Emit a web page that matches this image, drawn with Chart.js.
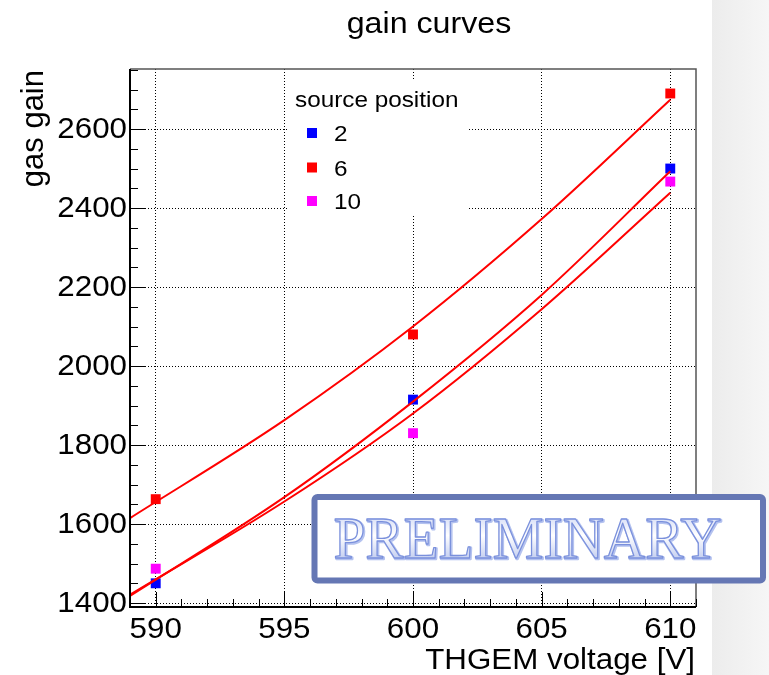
<!DOCTYPE html>
<html>
<head>
<meta charset="utf-8">
<title>gain curves</title>
<script src="https://cdn.jsdelivr.net/npm/chart.js@4/dist/chart.umd.min.js"></script>
<style>
  html, body { margin: 0; padding: 0; background: #ffffff; }
  #wrap { width: 769px; height: 675px; }
</style>
</head>
<body>
<div id="wrap"><canvas id="gain" width="769" height="675"></canvas></div>
<script>
// THGEM voltage settings [V] and measured gas gain per source position
const voltages = [590, 600, 610];
const gainPos2 = [1450, 1915, 2500];
const gainPos6 = [1663, 2080, 2690];
const gainPos10 = [1487, 1830, 2467];

// fitted gain curves, sampled along the voltage axis
const fitVoltages = [589, 595, 600, 605, 610];
const fitPos2 = [1418, 1668, 1910, 2180, 2493];
const fitPos6 = [1615, 1863, 2100, 2372, 2674];
const fitPos10 = [1421, 1657, 1880, 2144, 2439];

// axis ranges and tick labels
const xRange = [589, 611];
const yRange = [1390, 2752];
const xTicks = [590, 595, 600, 605, 610];
const yTicks = [1400, 1600, 1800, 2000, 2200, 2400, 2600];
const xMinorStep = 1;
const yMinorStep = 50;

const seriesNames = ['2', '6', '10'];
const seriesColors = ['#0000ff', '#ff0000', '#ff00ff'];
const fitColor = '#ff0000';

const SANS = '"Liberation Sans", Arial, sans-serif';
const SERIF = '"Liberation Serif", "Times New Roman", serif';

function pairs(xs, ys) { return xs.map((x, i) => ({ x: x, y: ys[i] })); }

function drawText(ctx, s, x, y, o) {
  ctx.save();
  ctx.font = o.size + 'px ' + (o.family || SANS);
  ctx.fillStyle = o.color || '#000000';
  ctx.textAlign = o.align || 'left';
  ctx.textBaseline = o.baseline || 'alphabetic';
  ctx.translate(x, y);
  if (o.rotate) ctx.rotate(o.rotate);
  ctx.scale(o.sx || 1, 1);
  ctx.fillText(s, 0, 0);
  ctx.restore();
}

const backdrop = {
  id: 'backdrop',
  beforeDraw(chart) {
    const ctx = chart.ctx;
    ctx.save();
    ctx.fillStyle = '#ffffff';
    ctx.fillRect(0, 0, chart.width, chart.height);
    const g = ctx.createLinearGradient(712, 0, chart.width, 0);
    g.addColorStop(0, '#ececec');
    g.addColorStop(1, '#f6f6f6');
    ctx.fillStyle = g;
    ctx.fillRect(712, 0, chart.width - 712, chart.height);
    ctx.restore();
  }
};

const frameAndText = {
  id: 'frameAndText',
  afterDatasetsDraw(chart) {
    const ctx = chart.ctx;
    const a = chart.chartArea;
    const xs = chart.scales.x, ys = chart.scales.y;

    // frame: top and right in grey, axes in black
    ctx.save();
    ctx.lineWidth = 1.5;
    ctx.strokeStyle = '#555555';
    ctx.beginPath();
    ctx.moveTo(a.left, a.top); ctx.lineTo(a.right, a.top); ctx.lineTo(a.right, a.bottom);
    ctx.stroke();
    ctx.lineWidth = 2;
    ctx.strokeStyle = '#000000';
    ctx.beginPath();
    ctx.moveTo(a.left, a.top); ctx.lineTo(a.left, a.bottom); ctx.lineTo(a.right, a.bottom);
    ctx.stroke();

    // tick marks pointing into the frame
    ctx.lineWidth = 1;
    ctx.beginPath();
    for (let v = Math.ceil(yRange[0] / yMinorStep) * yMinorStep; v <= yRange[1]; v += yMinorStep) {
      const py = Math.round(ys.getPixelForValue(v)) + 0.5;
      const len = (v % 200 === 0) ? 15 : 8;
      ctx.moveTo(a.left, py); ctx.lineTo(a.left + len, py);
    }
    for (let v = Math.ceil(xRange[0]); v <= xRange[1]; v += xMinorStep) {
      const px = Math.round(xs.getPixelForValue(v)) + 0.5;
      const len = (v % 5 === 0) ? 15 : 8;
      ctx.moveTo(px, a.bottom); ctx.lineTo(px, a.bottom - len);
    }
    ctx.stroke();
    ctx.restore();

    // tick labels
    yTicks.forEach(v => {
      drawText(ctx, String(v), a.left - 3, ys.getPixelForValue(v) + 1,
        { size: 29, sx: 1.08, align: 'right', baseline: 'middle' });
    });
    xTicks.forEach(v => {
      drawText(ctx, String(v), xs.getPixelForValue(v), 638,
        { size: 29, sx: 1.08, align: 'center' });
    });

    // titles
    drawText(ctx, 'gain curves', 429, 33, { size: 29, sx: 1.11, align: 'center' });
    drawText(ctx, 'THGEM voltage [V]', a.right - 1, 669, { size: 29, sx: 1.08, align: 'right' });
    drawText(ctx, 'gas gain', 43, a.top + 1, { size: 31, align: 'right', rotate: -Math.PI / 2 });

    // legend
    ctx.save();
    ctx.fillStyle = '#ffffff';
    ctx.fillRect(287, 80, 180, 135);
    ctx.restore();
    drawText(ctx, 'source position', 295, 107, { size: 22.5, sx: 1.08 });
    const rows = [133, 167.5, 201];
    seriesNames.forEach((n, i) => {
      ctx.save();
      ctx.fillStyle = seriesColors[i];
      ctx.fillRect(307, rows[i] - 5, 10, 10);
      ctx.restore();
      drawText(ctx, n, 334, rows[i] + 8, { size: 22.5, sx: 1.08 });
    });

    // PRELIMINARY stamp
    ctx.save();
    ctx.beginPath();
    if (ctx.roundRect) ctx.roundRect(314.5, 497, 448.5, 83.5, 3);
    else ctx.rect(314.5, 497, 448.5, 83.5);
    ctx.fillStyle = '#ffffff';
    ctx.fill();
    ctx.lineWidth = 6;
    ctx.strokeStyle = '#6577b4';
    ctx.stroke();

    ctx.font = '59px ' + SERIF;
    const w = ctx.measureText('PRELIMINARY').width;
    const sx = 388 / w;
    ctx.translate(333.5, 557.5);
    ctx.scale(sx, 1);
    ctx.textAlign = 'left';
    ctx.textBaseline = 'alphabetic';
    const g = ctx.createLinearGradient(0, -40, 0, 0);
    g.addColorStop(0, '#d9e0f7');
    g.addColorStop(0.45, '#ffffff');
    g.addColorStop(1, '#c7d1f1');
    ctx.lineJoin = 'round';
    ctx.strokeStyle = '#b4c2ef';
    ctx.lineWidth = 2.5;
    ctx.strokeText('PRELIMINARY', 1, 1);
    ctx.fillStyle = g;
    ctx.fillText('PRELIMINARY', 0, 0);
    ctx.strokeStyle = '#7a90dc';
    ctx.lineWidth = 1.3;
    ctx.strokeText('PRELIMINARY', 0, 0);
    ctx.restore();
  }
};

const pointSets = [gainPos2, gainPos6, gainPos10].map((ys, i) => ({
  label: seriesNames[i],
  data: pairs(voltages, ys),
  showLine: false,
  pointStyle: 'rect',
  pointRadius: 7,
  pointHoverRadius: 7,
  pointBackgroundColor: seriesColors[i],
  pointBorderColor: seriesColors[i],
  pointBorderWidth: 0,
  order: 1
}));

const fitSets = [fitPos2, fitPos6, fitPos10].map((ys, i) => ({
  label: 'fit ' + seriesNames[i],
  data: pairs(fitVoltages, ys),
  showLine: true,
  borderColor: fitColor,
  borderWidth: 2,
  pointRadius: 0,
  pointHoverRadius: 0,
  cubicInterpolationMode: 'monotone',
  fill: false,
  order: 0
}));

function fixedTicks(values) {
  return function (scale) { scale.ticks = values.map(v => ({ value: v })); };
}

new Chart(document.getElementById('gain'), {
  type: 'scatter',
  data: { datasets: pointSets.concat(fitSets) },
  options: {
    responsive: false,
    animation: false,
    devicePixelRatio: 1,
    layout: { padding: { left: 130, right: 73, top: 69, bottom: 68 } },
    plugins: { legend: { display: false }, title: { display: false }, tooltip: { enabled: false } },
    scales: {
      x: {
        type: 'linear', min: xRange[0], max: xRange[1],
        afterBuildTicks: fixedTicks(xTicks),
        ticks: { display: false },
        grid: { color: '#000000', lineWidth: 1, drawTicks: false },
        border: { display: false, dash: [1, 2] }
      },
      y: {
        type: 'linear', min: yRange[0], max: yRange[1],
        afterBuildTicks: fixedTicks(yTicks),
        ticks: { display: false },
        grid: { color: '#000000', lineWidth: 1, drawTicks: false },
        border: { display: false, dash: [1, 2] }
      }
    }
  },
  plugins: [backdrop, frameAndText]
});
</script>
</body>
</html>
